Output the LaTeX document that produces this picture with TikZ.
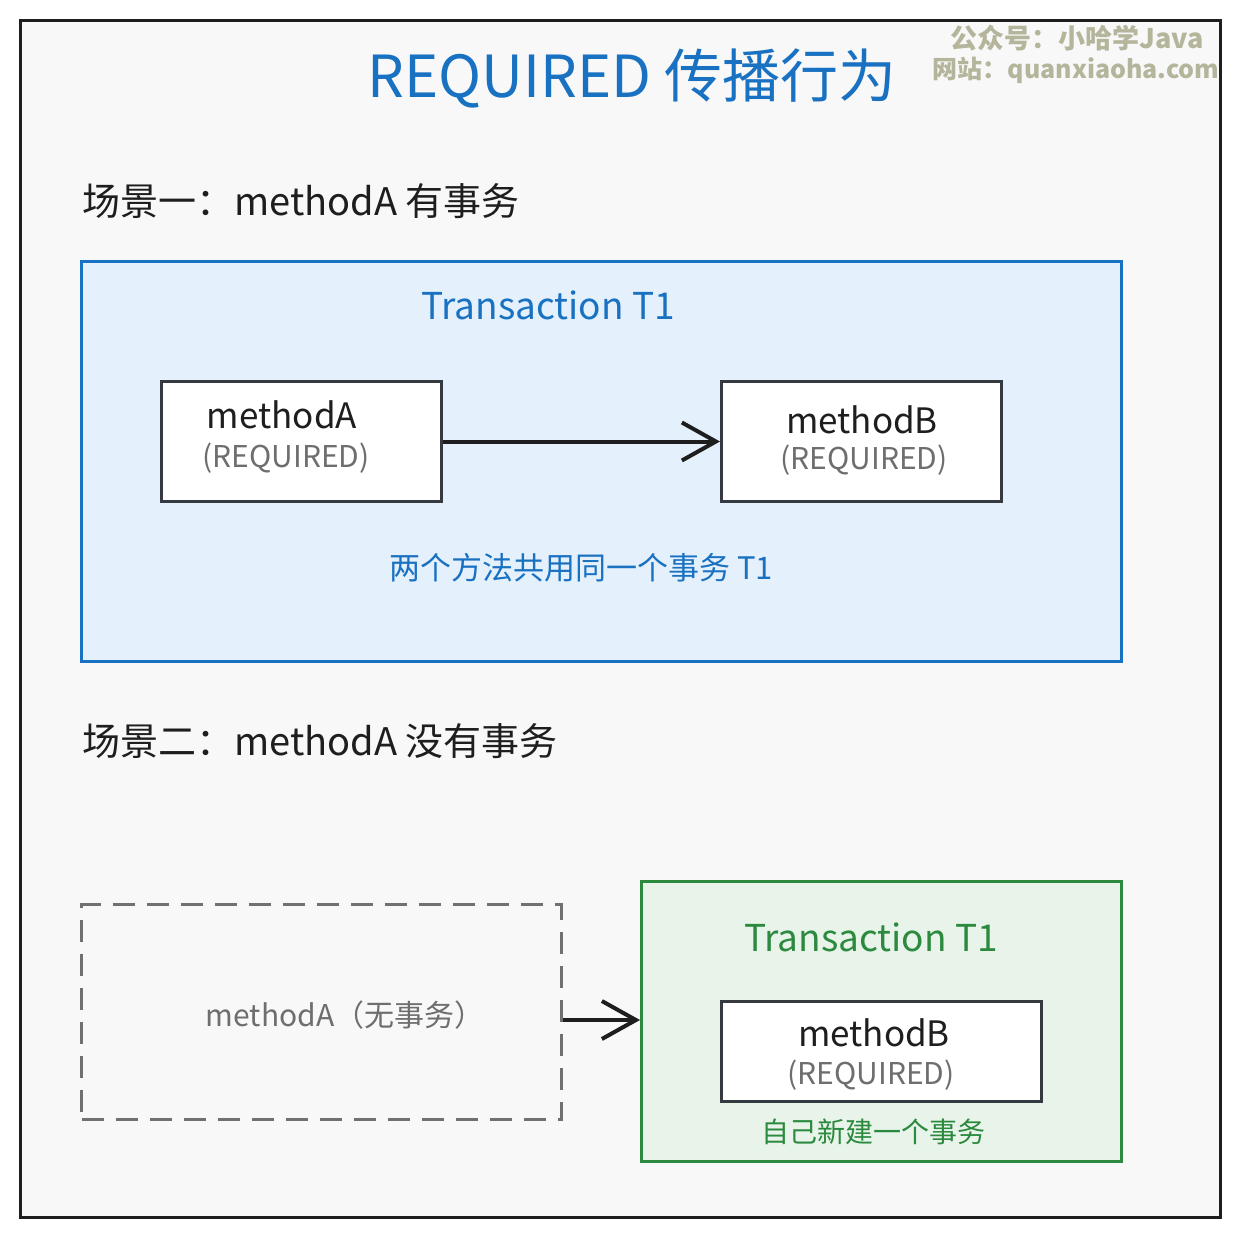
\documentclass[tikz,border=0pt]{standalone}
\usepackage{fontspec}
\setmainfont{Noto Sans CJK SC}
\usetikzlibrary{arrows.meta,positioning}
\definecolor{ink}{HTML}{1E1E1E}
\definecolor{boxline}{HTML}{343A40}
\definecolor{bluet}{HTML}{1971C2}
\definecolor{bluefill}{HTML}{E4F0FB}
\definecolor{greent}{HTML}{2B8A3E}
\definecolor{greenfill}{HTML}{E8F4EA}
\definecolor{grayt}{HTML}{6E6E6E}
\definecolor{dashc}{HTML}{707070}
\definecolor{canvas}{HTML}{F8F8F8}
\definecolor{wm}{HTML}{B5B59C}
\newcommand{\fsz}[1]{\fontsize{#1}{\the\dimexpr #1pt*12/10\relax}\selectfont}
\tikzset{
  x=1pt,y=-1pt,
  frame/.style={draw=ink,line width=3pt,fill=canvas},
  region/.style={line width=3pt},
  methodbox/.style={draw=boxline,fill=white,line width=3pt},
  conn/.style={draw=ink,line width=4pt,-{Straight Barb[length=34pt,width=38pt,line width=4pt]}},
  lbl/.style={inner sep=0pt,text=ink},
  req/.style={inner sep=0pt,text=grayt,font=\fsz{30}},
  mname/.style={inner sep=0pt,text=ink,font=\fsz{35}},
}
\begin{document}
\begin{tikzpicture}
\fill[white] (0,0) rectangle (1240,1237);
\useasboundingbox (0,0) rectangle (1240,1237);
\draw[frame] (20,20) rectangle (1220,1217);

% watermark
\node[lbl,text=wm,anchor=center] (wm1) at (1077,38) {\fsz{27}\bfseries 公众号：小哈学Java};
\node[lbl,text=wm,anchor=center] (wm2) at (1076,70) {\fsz{25}\bfseries 网站：quanxiaoha.com};

% title
\node[lbl,text=bluet] (title) at (632,78) {\fsz{58}REQUIRED 传播行为};

% scenario 1
\node[lbl,anchor=west] (s1) at (82,201) {\fsz{38}场景一：methodA 有事务};
\node[region,draw=bluet,fill=bluefill,minimum width=1040pt,minimum height=400pt,anchor=north west] (t1) at (80,260) {};
\node[lbl,text=bluet] (t1lbl) at (548,305) {\fsz{37}Transaction T1};
\node[methodbox,minimum width=280pt,minimum height=120pt,anchor=north west] (ma) at (160,380) {};
\node[mname] (maname) at (282,415) {methodA};
\node[req] (mareq) at (286,458) {(REQUIRED)};
\node[methodbox,minimum width=280pt,minimum height=120pt,anchor=north west] (mb) at (720,380) {};
\node[mname] (mbname) at (862,420) {methodB};
\node[req] (mbreq) at (864,460) {(REQUIRED)};
\draw[conn] (ma.east) -- (mb.west);
\node[lbl,text=bluet] (share) at (581,568) {\fsz{31}两个方法共用同一个事务 T1};

% scenario 2
\node[lbl,anchor=west] (s2) at (82,741) {\fsz{38}场景二：methodA 没有事务};
\node[region,draw=dashc,dash pattern=on 22pt off 12pt,minimum width=480pt,minimum height=215pt,anchor=north west] (na) at (80,903) {};
\node[lbl,text=grayt] (nalbl) at (345,1015) {\fsz{30}methodA（无事务）};
\node[region,draw=greent,fill=greenfill,minimum width=480pt,minimum height=280pt,anchor=north west] (t2) at (640,880) {};
\node[lbl,text=greent] (t2lbl) at (871,937) {\fsz{37}Transaction T1};
\node[methodbox,minimum width=320pt,minimum height=100pt,anchor=north west] (mb2) at (720,1000) {};
\node[mname] (mb2name) at (874,1033) {methodB};
\node[req] (mb2req) at (871,1075) {(REQUIRED)};
\node[lbl,text=greent] (newtx) at (873,1132) {\fsz{28}自己新建一个事务};
\draw[conn] (na.east |- 0,1020) coordinate (c1) -- (t2.west |- c1);
\end{tikzpicture}
\end{document}
